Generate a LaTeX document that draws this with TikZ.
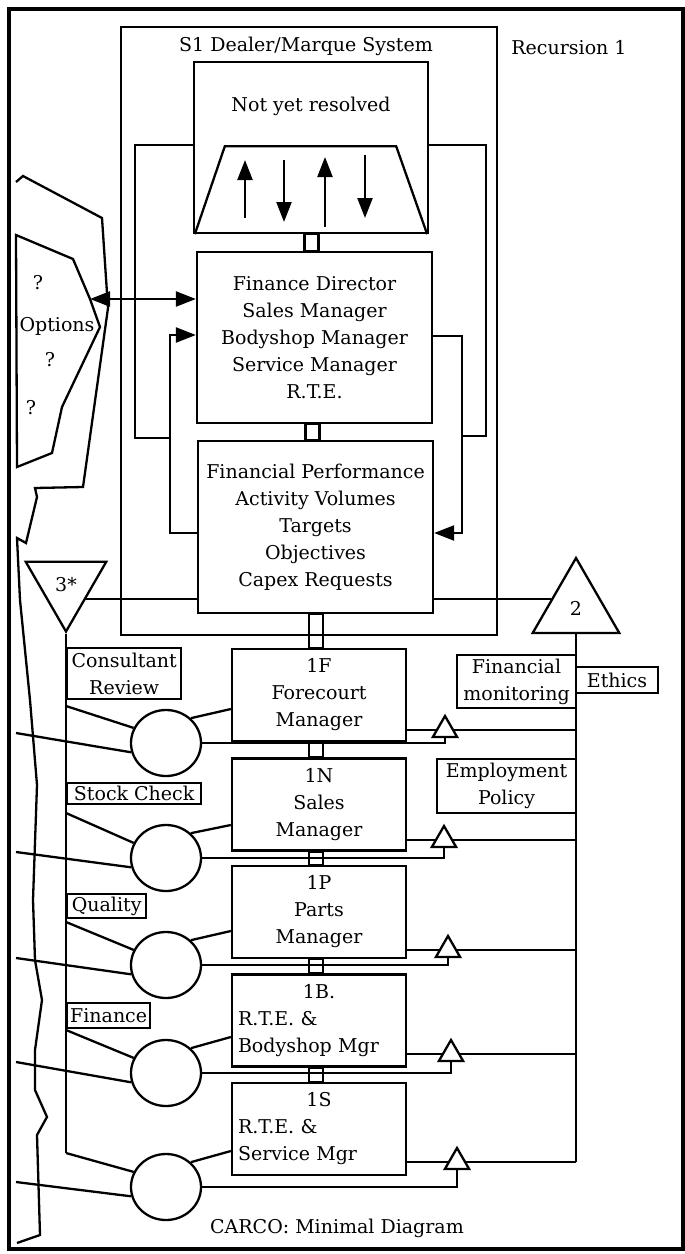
\documentclass[tikz,border=0pt]{standalone}
\usepackage{fontspec}
\setmainfont{DejaVu Serif}
\usetikzlibrary{arrows.meta, positioning, calc, shapes.geometric}

\begin{document}
\begin{tikzpicture}[
    x=1pt, y=-1pt,
    line width=2.3pt,
    font=\fontsize{19}{27}\selectfont,
    box/.style={draw, align=center, inner sep=2pt},
    unit/.style={box, minimum width=174pt, minimum height=92pt},
    tag/.style={draw, align=center, inner sep=1.5pt, anchor=north west},
    eye/.style={draw, ellipse, minimum width=70pt, minimum height=66pt, inner sep=0pt},
    amp/.style={draw, fill=white, regular polygon, regular polygon sides=3,
        minimum size=28pt, inner sep=0pt},
    sig/.style={draw, regular polygon, regular polygon sides=3, inner sep=0pt},
    flow/.style={-{Triangle[length=20pt, width=15pt]}},
]
\useasboundingbox (0,0) rectangle (685,1254);
\draw[line width=3.2pt] (9,9) rectangle (683,1249);

% system 1 envelope
\node[box, minimum width=376pt, minimum height=608pt] (s1) at (309,331) {};
\node at (306,46) {S1 Dealer/Marque System};
\node at (569,48) {Recursion 1};

% system 5 / 4 / 3
\node[box, minimum width=234pt, minimum height=171pt] (nyr) at (311,147.5) {};
\node at (311,106) {Not yet resolved};
\draw ($(nyr.south west)+(2,0)$) -- ($(nyr.south west)+(32,-88)$)
    -- ($(nyr.south east)+(-33,-88)$) -- ($(nyr.south east)+(-2,0)$);
\foreach \x/\a/\b in {245/218/160, 284/160/222, 325/227/157, 365/155/218}
    \draw[flow] (\x,\a) -- (\x,\b);

\node[box, minimum width=235pt, minimum height=171pt] (fd) at (314.5,337.5)
    {Finance Director\\Sales Manager\\Bodyshop Manager\\Service Manager\\R.T.E.};
\node[box, minimum width=235pt, minimum height=172pt] (fp) at (315.5,527)
    {Financial Performance\\Activity Volumes\\Targets\\Objectives\\Capex Requests};

% loops round the management boxes
\draw (nyr.west |- 0,145) -| (135,438) -- (170,438);
\draw[flow] (fp.west |- 0,533) -| (170,335) -- (fd.west |- 0,335);
\draw[flow] (fd.east |- 0,336) -| (462,533) -- (fp.east |- 0,533);
\draw (nyr.east |- 0,145) -| (486,436) -- (462,436);

% environment
\draw (16,235) -- (73,259) -- (90,299) coordinate (optTip) -- (100,327)
    -- (62,407) -- (52,453) -- (17,467) -- cycle;
\draw (16,182) -- (23,176) -- (102,218) -- (108,308) -- (83,487) -- (35,488)
    -- (37,497) -- (26,543) -- (17,538) -- (20,600) -- (30,700) -- (37,785)
    -- (33,900) -- (35,960) -- (42,1000) -- (35,1050) -- (35,1090)
    -- (47,1117) -- (37,1135) -- (40,1235) -- (17,1243);
\coordinate (envL) at (16,0);
\node at (38,283) {?};
\node at (57,326) {Options};
\node at (50,360) {?};
\node at (31,408) {?};
\draw[{Triangle[length=20pt, width=15pt]}-{Triangle[length=20pt, width=15pt]}]
    (optTip) -- (fd.west |- optTip);

% 3* and 2
\node[sig, shape border rotate=180, minimum size=93pt] (t3) at (66,585) {3*};
\node[sig, minimum size=100pt] (t2) at (576,608) {2};
\draw (t3.-34) -- (fp.west |- t3.-34);
\draw (t2.160) -- (fp.east |- t2.160);
\draw (t3.south) -- (t3.south |- 0,1153);
\draw (t2.south) -- (t2.south |- 0,1162);

\node[box, minimum width=119pt, minimum height=53pt] (finmon) at (516.5,681.5)
    {Financial\\monitoring};
\node[box, minimum width=82pt, minimum height=26pt] (ethics) at (617,680) {Ethics};
\node[box, minimum width=139pt, minimum height=54pt] (employ) at (506.5,786)
    {Employment\\Policy};

% system 1 units
\node[unit] (uF) at (319,695) {1F\\Forecourt\\Manager};
\node[unit] (uN) at (319,804.5) {1N\\Sales\\Manager};
\node[unit] (uP) at (319,912) {1P\\Parts\\Manager};
\node[unit, text width=162pt, align=left] (uB) at (319,1020.5)
    {\null\hfill 1B.\hfill\null\\R.T.E. \&\\Bodyshop Mgr};
\node[unit, text width=162pt, align=left] (uS) at (319,1129)
    {\null\hfill 1S\hfill\null\\R.T.E. \&\\Service Mgr};

\foreach \a/\b in {nyr/fd, fd/fp, fp/uF, uF/uN, uN/uP, uP/uB, uB/uS}
    \draw ($(\b.north)+(-10,0)$) rectangle ($(\a.south -| \b.north)+(4,0)$);

\node[tag, minimum width=114pt, minimum height=51pt] (consult) at (66,647)
    {Consultant\\Review};
\node[tag, minimum width=134pt, minimum height=21pt] (stock) at (66,782) {Stock Check};
\node[tag, minimum width=79pt, minimum height=24pt] (quality) at (66,893) {Quality};
\node[tag, minimum width=83pt, minimum height=25pt] (finance) at (66,1002) {Finance};

\foreach \nm/\cy/\ul/\tx/\vj/\bj/\ly in {F/743/730/445/706/709/733,
        N/858/840/444/813/825/852, P/965/950/448/922/931/958,
        B/1073/1054/451/1030/1037/1062, S/1187/1162/457/1153/1151/1182} {
    \node[eye] (c\nm) at (166,\cy) {};
    \draw (c\nm.45) -- (u\nm.west |- 0,\bj);
    \draw (c\nm.195) -- (envL |- 0,\ly);
    \draw (t3.south |- 0,\vj) -- (c\nm.155);
    \draw (u\nm.east |- 0,\ul) -- (t2.south |- 0,\ul);
    \node[amp] (a\nm) at (\tx,\ul) {};
    \draw (c\nm.east) -| (a\nm.south);
}

\node at (337,1228) {CARCO: Minimal Diagram};
\end{tikzpicture}
\end{document}
